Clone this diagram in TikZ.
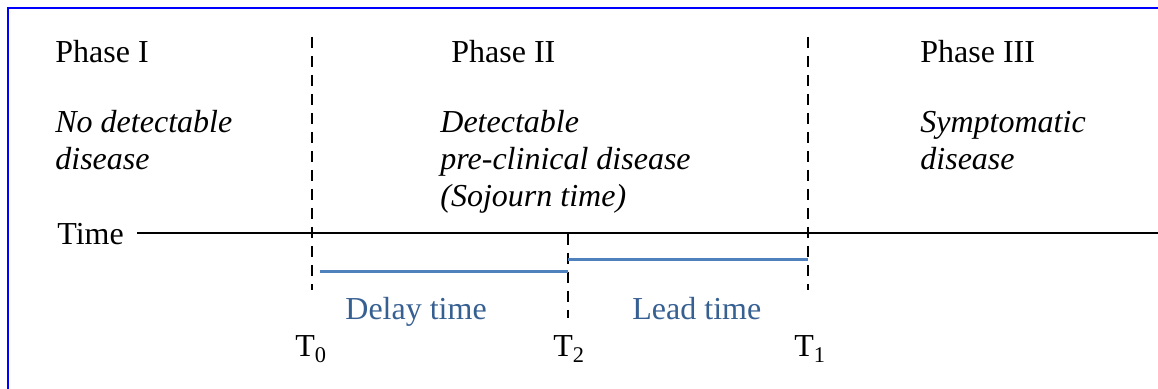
\documentclass[tikz,border=0pt]{standalone}
\usepackage{fontspec}
\setmainfont{Liberation Serif}
\definecolor{frameblue}{RGB}{0,0,255}
\definecolor{spanblue}{RGB}{79,129,189}
\definecolor{spantext}{RGB}{55,96,146}
\tikzset{
  phase/.style={anchor=base west,inner sep=0pt},
  stage/.style={anchor=base west,inner sep=0pt,align=left,font=\itshape},
  tick/.style={line width=1pt,dash pattern=on 5.5pt off 4pt},
  span/.style={spanblue,line width=1.1pt},
  spanlabel/.style={anchor=base west,inner sep=0pt,text=spantext},
}
\begin{document}
\begin{tikzpicture}[x=0.5pt,y=0.5pt,yscale=-1,xscale=1]
	\fontsize{16}{18.5}\selectfont
	\useasboundingbox (0,0) rectangle (1158,389);
	
	%Frame (cut at right and bottom)
	\draw  [frameblue,line width=1pt] (8,389) -- (8,8.5) -- (1158,8.5) ;
	
	% Text Node
	\node (ph1) at (55,63) [phase] {Phase I};
	% Text Node
	\node (ph2) at (451,63) [phase] {Phase II};
	% Text Node
	\node (ph3) at (920,63) [phase] {Phase III};
	% Text Node (base = last line)
	\node (st1) at (55,170) [stage] {No detectable\\disease};
	% Text Node (base = last line)
	\node (st2) at (440,207) [stage] {Detectable\\pre-clinical disease\\(Sojourn time)};
	% Text Node (base = last line)
	\node (st3) at (920,170) [stage] {Symptomatic\\disease};
	
	% Text Node
	\node (time) at (57,245) [phase] {Time};
	\coordinate (tstart) at (137,233.5);
	\coordinate (tend) at (1158,233.5);
	%Time axis
	\draw  [line width=1pt] (tstart) -- (tend) ;
	
	%Dashed marks
	\coordinate (t0top) at (312,37);
	\coordinate (t0bot) at (312,290);
	\coordinate (t2top) at (568,234);
	\coordinate (t2bot) at (568,318);
	\coordinate (t1top) at (808,37);
	\coordinate (t1bot) at (808,290);
	\draw  [tick] (t0top) -- (t0bot) ;
	\draw  [tick] (t2top) -- (t2bot) ;
	\draw  [tick] (t1top) -- (t1bot) ;
	
	%Delay and lead spans
	\coordinate (dstart) at (320,271.5);
	\coordinate (dend) at (568,271.5);
	\coordinate (lstart) at (568,259.5);
	\coordinate (lend) at (808,259.5);
	\draw  [span] (dstart) -- (dend) ;
	\draw  [span] (lstart) -- (lend) ;
	
	% Text Node
	\node (delay) at (345,320) [spanlabel] {Delay time};
	% Text Node
	\node (lead) at (632,320) [spanlabel] {Lead time};
	
	% Text Node
	\node (T0) at (295,357) [phase] {T\textsubscript{0}};
	% Text Node
	\node (T2) at (553,357) [phase] {T\textsubscript{2}};
	% Text Node
	\node (T1) at (794,357) [phase] {T\textsubscript{1}};
\end{tikzpicture}
\end{document}
